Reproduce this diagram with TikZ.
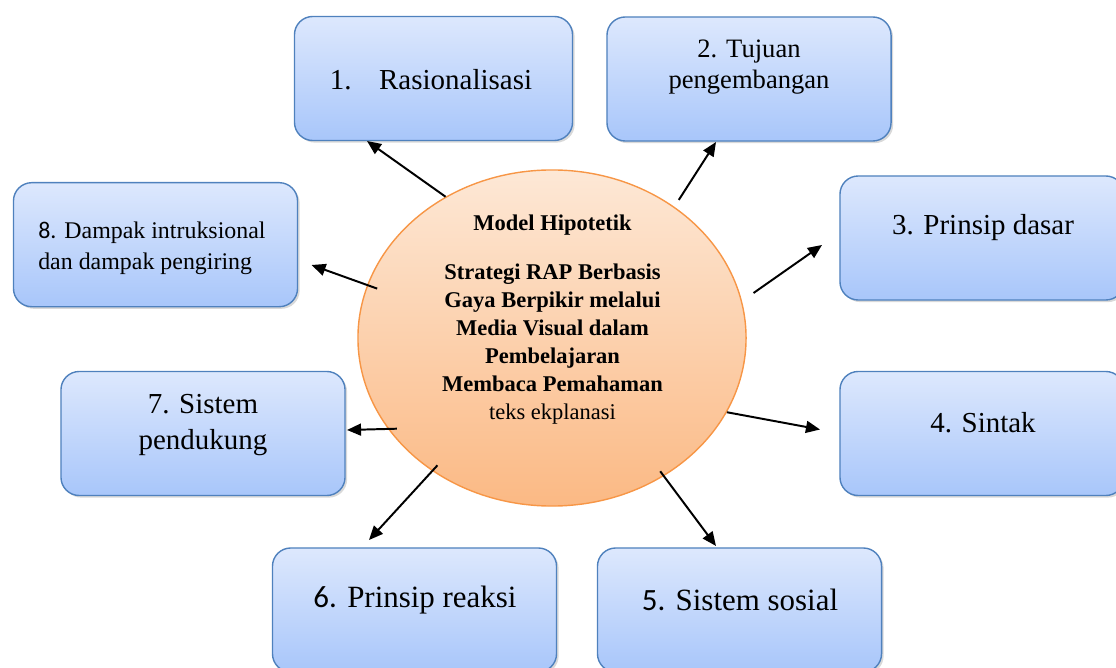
\documentclass[tikz,border=0pt]{standalone}
\usepackage{fontspec}
\setmainfont{Liberation Serif}
\newfontfamily\numfont{Carlito}
\usetikzlibrary{arrows.meta,shadows,shapes.geometric,positioning}

\definecolor{boxtop}{HTML}{DDE8FD}
\definecolor{boxbot}{HTML}{A8C6FA}
\definecolor{boxline}{HTML}{4F81BD}
\definecolor{eltop}{HTML}{FDE8D6}
\definecolor{elbot}{HTML}{FBB984}
\definecolor{elline}{HTML}{F79646}

\begin{document}
\begin{tikzpicture}[x=0.025cm,y=-0.025cm,
    box/.style={draw=boxline, line width=1pt, rounded corners=13pt,
        top color=boxtop, bottom color=boxbot,
        minimum width=7.1cm, minimum height=3.1cm,
        drop shadow={shadow xshift=1.5pt, shadow yshift=-1.5pt, opacity=0.3}},
    core/.style={ellipse, draw=elline, line width=1pt,
        top color=eltop, bottom color=elbot,
        minimum width=9.7cm, minimum height=8.4cm},
    lbl/.style={align=center, inner sep=0pt},
    arr/.style={-{Triangle[length=10pt,width=8.5pt]}, line width=1.4pt}]
    \useasboundingbox (0,0) rectangle (1116,668);
    \clip (0,0) rectangle (1116,668);

    % boxes round the model
    \node[box, minimum width=6.95cm] (r1) at (433.5,78.5) {};
    \node[box] (r2) at (749,79) {};
    \node[box] (r3) at (982,238) {};
    \node[box] (r4) at (982,433.5) {};
    \node[box] (r5) at (739.5,610) {};
    \node[box] (r6) at (414.5,610) {};
    \node[box] (r7) at (203,433.5) {};
    \node[box] (r8) at (155.5,244.7) {};
    \node[core] (hyp) at (552,338) {};

    % texts
    \node[lbl, font=\fontsize{20.6}{25}\selectfont] (r1t) at (431,80) {1.\hspace{0.95em}Rasionalisasi};
    \node[lbl, font=\fontsize{18.9}{22}\selectfont] (r2t) at (749,67.5) {2. Tujuan\\pengembangan};
    \node[lbl, font=\fontsize{20.6}{25}\selectfont] (r3t) at (983,228) {3. Prinsip dasar};
    \node[lbl, font=\fontsize{20.6}{25}\selectfont] (r4t) at (983,423) {4. Sintak};
    \node[lbl, font=\fontsize{22}{26}\selectfont] (r5t) at (740,600) {{\numfont 5.} Sistem sosial};
    \node[lbl, font=\fontsize{22}{26}\selectfont] (r6t) at (415,600) {{\numfont 6.} Prinsip reaksi};
    \node[lbl, font=\fontsize{20.6}{25.6}\selectfont] (r7t) at (203,425) {7. Sistem\\pendukung};
    \node[lbl, align=left, anchor=west, font=\fontsize{17}{22}\selectfont] (r8t) at (38,248.5)
        {{\numfont 8.} Dampak intruksional\\dan dampak pengiring};
    \node[lbl, font=\fontsize{16}{19.9}\selectfont] (hypt) at (552.5,319.5)
        {\textbf{Model Hipotetik}\\[15pt]
         \textbf{Strategi RAP Berbasis}\\
         \textbf{Gaya Berpikir melalui}\\
         \textbf{Media Visual dalam}\\
         \textbf{Pembelajaran}\\
         \textbf{Membaca Pemahaman}\\
         teks ekplanasi};

    % arrow tips
    \coordinate (e1) at (367,141);
    \coordinate (e2) at (716,142);
    \coordinate (e3) at (822,245);
    \coordinate (e4) at (820,429.5);
    \coordinate (e5) at (716,546);
    \coordinate (e6) at (369,540);
    \coordinate (e7) at (347,430);
    \coordinate (e8) at (311.5,265);

    \path[arr]
        (hyp.127)   edge (e1)
        (hyp.47.8)  edge[shorten <=5.8pt] (e2)
        (hyp.11.7)  edge[shorten <=10pt] (e3)
        (hyp.-23.6) edge (e4)
        (hyp.-51.5) edge[shorten <=-4.3pt] (e5)
        (hyp.228.1) edge[shorten <=-5.5pt] (e6)
        (hyp.209.6) edge[shorten <=-6.4pt] (e7)
        (hyp.164.6) edge[shorten <=-7.6pt] (e8);
\end{tikzpicture}
\end{document}
